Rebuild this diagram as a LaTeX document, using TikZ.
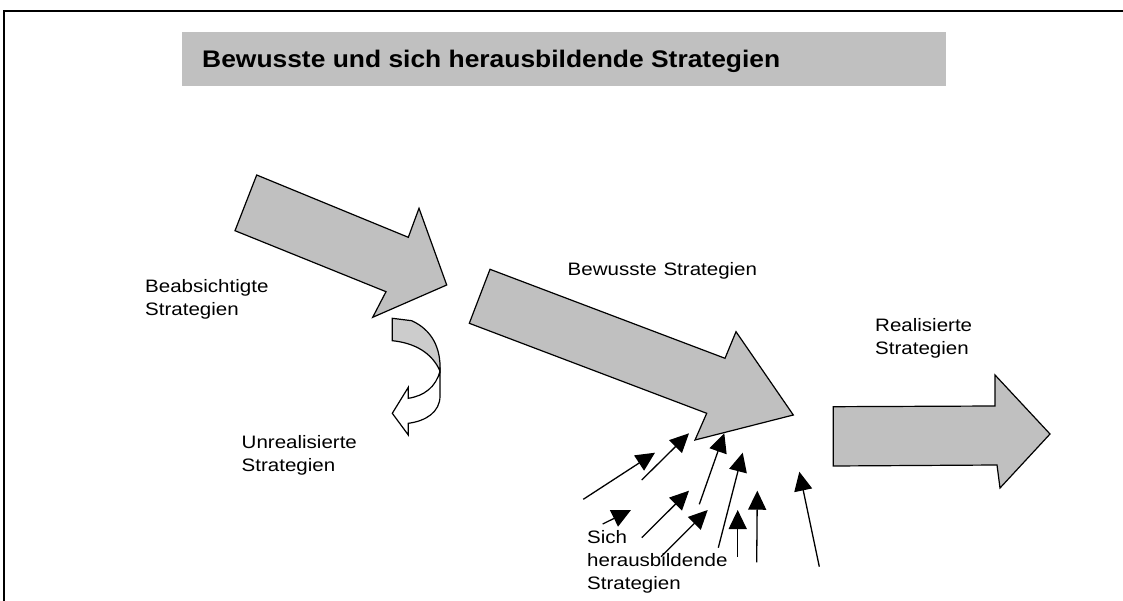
\documentclass[tikz,border=0pt]{standalone}
\usepackage{fontspec}
\setmainfont{Liberation Sans}
\usetikzlibrary{arrows.meta}
\definecolor{silver}{HTML}{C0C0C0}
\definecolor{lightsilver}{HTML}{CCCCCC}
\tikzset{
  bigarrow/.style={draw=black, line width=1.2pt, fill=silver, line join=miter},
  smallarrow/.style={line width=1.3pt, -{Triangle[length=19pt,width=18pt]}},
  txtlabel/.style={font=\fontsize{18}{23}\selectfont, xscale=1.14, inner sep=0pt,
                anchor=base west, align=left, text width=170pt},
  titletext/.style={font=\fontsize{24}{28}\selectfont\bfseries, xscale=1.1,
                inner sep=0pt, anchor=base west},
}
\begin{document}
\begin{tikzpicture}[x=1pt, y=-1pt]
\useasboundingbox (0,0) rectangle (1123,601);

% outer frame (top and left edges)
\draw[line width=1.6pt] (1123,11) -- (4,11) -- (4,601);

% title bar
\node[fill=silver, minimum width=764pt, minimum height=54pt, inner sep=0pt,
      anchor=north west] (titlebox) at (182,32) {};
\node[titletext] (title) at (202,68) {Bewusste und sich herausbildende Strategien};

% intended strategies
\draw[bigarrow] (256.7,175) -- (408.3,237.3) -- (419,208.3) -- (446.7,285)
  -- (372.7,317.3) -- (386,291.7) -- (235,230.7) -- cycle;

% deliberate strategies
\draw[bigarrow] (490,269.3) -- (725,358.3) -- (736,331.7) -- (793.3,415)
  -- (695,440) -- (706.7,413.3) -- (469.3,323.3) -- cycle;

% realized strategies
\draw[bigarrow] (833.3,406.7) -- (995,406) -- (995,375) -- (1050,434)
  -- (1000,488) -- (997,465) -- (833.3,466) -- cycle;

% curved arrow towards unrealized strategies: back (white) part
\draw[line width=1.2pt, fill=white, line join=miter]
  (440,371) -- (440,396) .. controls (440,412) and (426,421) .. (408.3,423.3)
  -- (408.3,435) -- (392.3,413.3) -- (408.3,387.3) -- (408.3,398.3)
  .. controls (424,396) and (436,387) .. (440,371) -- cycle;
% front (grey) part
\draw[line width=1.2pt, fill=lightsilver, line join=miter]
  (392.3,318.3) -- (411.7,320.7) .. controls (432,330) and (441,348) .. (440,371)
  .. controls (432,353) and (415,343) .. (392.3,340.7) -- cycle;

% labels
\node[txtlabel] (beab) at (145,293) {Beabsichtigte\\Strategien};
\node[txtlabel] (unreal) at (241.5,448) {Unrealisierte\\Strategien};
\node[txtlabel] (bew) at (567.5,276) {Bewusste Strategien};
\node[txtlabel] (real) at (875,331) {Realisierte\\Strategien};
\node[txtlabel] (sich) at (587,543) {Sich\\herausbildende\\Strategien};

% emergent strategies
\coordinate (s1) at (583.3,499.3);  \coordinate (e1) at (655,452.7);
\coordinate (s2) at (641.7,480);    \coordinate (e2) at (689,433.3);
\coordinate (s3) at (602.7,524);    \coordinate (e3) at (631,510);
\coordinate (s4) at (641.7,537.7);  \coordinate (e4) at (689,490.7);
\coordinate (s5) at (661,556.7);    \coordinate (e5) at (707.7,510);
\coordinate (s6) at (699.3,504.3);  \coordinate (e6) at (724.3,433.3);
\coordinate (s7) at (718.3,547.7);  \coordinate (e7) at (742.7,452.7);
\coordinate (s8) at (737.7,556.7);  \coordinate (e8) at (737.7,510);
\coordinate (s9) at (756.7,562.3);  \coordinate (e9) at (757.3,490.7);
\coordinate (s10) at (819.3,566.7); \coordinate (e10) at (799.3,471.7);
\foreach \i in {1,...,10}
  \draw[smallarrow] (s\i) -- (e\i);
\end{tikzpicture}
\end{document}
